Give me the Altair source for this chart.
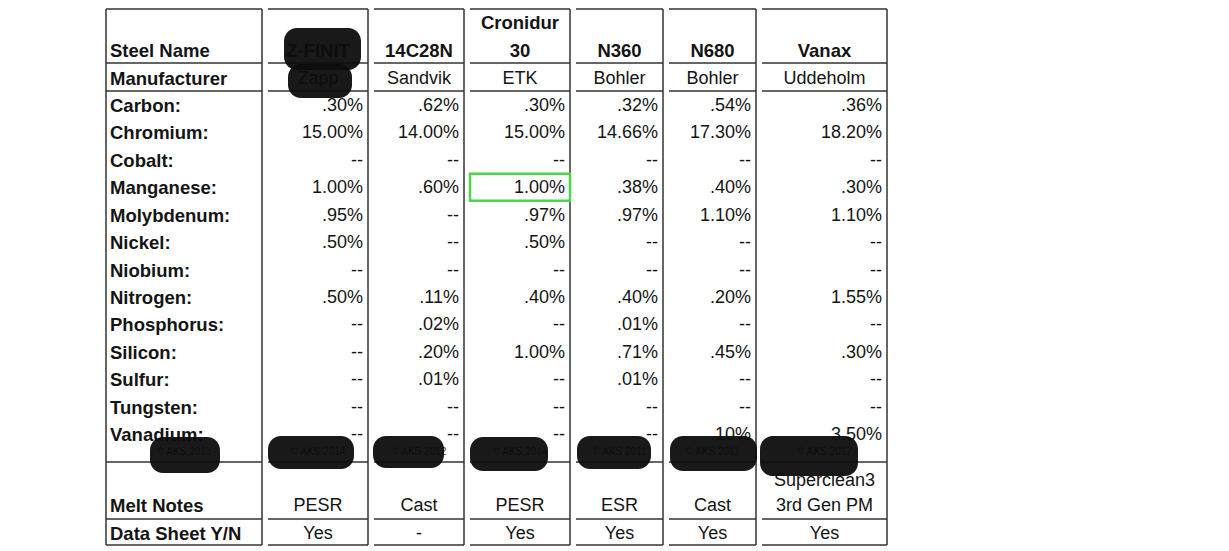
import altair as alt
import pandas as pd

# ---------------- data ----------------
row_labels_top = ["Steel Name", "Manufacturer"]
elements = ["Carbon:", "Chromium:", "Cobalt:", "Manganese:", "Molybdenum:", "Nickel:",
            "Niobium:", "Nitrogen:", "Phosphorus:", "Silicon:", "Sulfur:", "Tungsten:", "Vanadium:"]
row_labels_bottom = ["Melt Notes", "Data Sheet Y/N"]

steels = ["Z-FINIT", "14C28N", "Cronidur\n30", "N360", "N680", "Vanax"]
manufacturers = ["Zapp", "Sandvik", "ETK", "Bohler", "Bohler", "Uddeholm"]

zfinit_vals = [".30%", "15.00%", "--", "1.00%", ".95%", ".50%", "--", ".50%", "--", "--", "--", "--", "--"]
c14c28n_vals = [".62%", "14.00%", "--", ".60%", "--", "--", "--", ".11%", ".02%", ".20%", ".01%", "--", "--"]
cronidur_vals = [".30%", "15.00%", "--", "1.00%", ".97%", ".50%", "--", ".40%", "--", "1.00%", "--", "--", "--"]
n360_vals = [".32%", "14.66%", "--", ".38%", ".97%", "--", "--", ".40%", ".01%", ".71%", ".01%", "--", "--"]
n680_vals = [".54%", "17.30%", "--", ".40%", "1.10%", "--", "--", ".20%", "--", ".45%", "--", "--", ".10%"]
vanax_vals = [".36%", "18.20%", "--", ".30%", "1.10%", "--", "--", "1.55%", "--", ".30%", "--", "--", "3.50%"]
composition = [zfinit_vals, c14c28n_vals, cronidur_vals, n360_vals, n680_vals, vanax_vals]

melt_notes = ["PESR", "Cast", "PESR", "ESR", "Cast", "Superclean3\n3rd Gen PM"]
data_sheet = ["Yes", "-", "Yes", "Yes", "Yes", "Yes"]
copyrights = ["© AKS 2013", "© AKS 2014", "© AKS 2012", "© AKS 2014", "© AKS 2011", "© AKS 2011", "© AKS 2017"]

highlight_steel = 2        # Cronidur 30
highlight_element = 3      # Manganese

# ---------------- layout (page pixels) ----------------
LEFT = 106
GAP = 6
col_widths = [156, 100, 90, 100, 87, 87, 125]
TOP = 9
HEADER_Y = 50
LINE_H = 28
HEADER_BOTTOM = 63
MANUF_Y = 78
MANUF_BOTTOM = 91
ELEM_Y0 = 105
ELEM_STEP = 27.42
NOTES_TOP = 462
NOTES_Y = 505
NOTES_BOTTOM = 519
SHEET_Y = 533
BOTTOM = 545
COPY_Y = 452
DY = 1

col_left, col_right = [], []
x = LEFT
for w in col_widths:
    col_left.append(x)
    col_right.append(x + w)
    x += w + GAP
col_center = [(a + b) / 2 for a, b in zip(col_left, col_right)]

# redaction blobs: (column, x offset from col left, width, y0, y1)
redactions = [(1, 16, 77, 28, 70), (1, 20, 64, 64, 98),
              (0, 44, 70, 437, 473), (1, 0, 86, 436, 469), (2, -1, 71, 436, 468),
              (3, 0, 78, 437, 471), (4, 1, 74, 436, 469), (5, 1, 87, 436, 471),
              (6, -2, 98, 436, 476)]

FONT = "Liberation Sans"
SIZE = 18
BOLD_SIZE = 18.5
INK = "#141414"

# ---------------- tables ----------------
rules = []
for i in range(len(col_widths)):
    l, r = col_left[i], col_right[i]
    for yy in [TOP, HEADER_BOTTOM, MANUF_BOTTOM, NOTES_TOP, NOTES_BOTTOM, BOTTOM]:
        rules.append({"x": l, "x2": r, "y": yy, "y2": yy})
    rules.append({"x": r, "x2": r, "y": TOP, "y2": BOTTOM})
    if i == 0:
        rules.append({"x": l, "x2": l, "y": TOP, "y2": BOTTOM})
rules_df = pd.DataFrame(rules)

labels = []
labels.append({"t": row_labels_top[0], "x": col_left[0] + 4, "y": HEADER_Y})
labels.append({"t": row_labels_top[1], "x": col_left[0] + 4, "y": MANUF_Y})
for k, e in enumerate(elements):
    labels.append({"t": e, "x": col_left[0] + 4, "y": ELEM_Y0 + k * ELEM_STEP})
labels.append({"t": row_labels_bottom[0], "x": col_left[0] + 4, "y": NOTES_Y})
labels.append({"t": row_labels_bottom[1], "x": col_left[0] + 4, "y": SHEET_Y})
labels_df = pd.DataFrame(labels)

names = []
for j, s in enumerate(steels):
    parts = s.split("\n")
    for p, line in enumerate(parts):
        names.append({"t": line, "x": col_center[j + 1],
                      "y": HEADER_Y - (len(parts) - 1 - p) * LINE_H})
names_df = pd.DataFrame(names)

centered = []
for j, m in enumerate(manufacturers):
    centered.append({"t": m, "x": col_center[j + 1], "y": MANUF_Y})
for j, m in enumerate(melt_notes):
    parts = m.split("\n")
    for p, line in enumerate(parts):
        centered.append({"t": line, "x": col_center[j + 1],
                         "y": NOTES_Y - (len(parts) - 1 - p) * 25})
for j, d in enumerate(data_sheet):
    centered.append({"t": d, "x": col_center[j + 1], "y": SHEET_Y})
centered_df = pd.DataFrame(centered)

vals = []
for j, col in enumerate(composition):
    for k, v in enumerate(col):
        vals.append({"t": v, "x": col_right[j + 1] - 5, "y": ELEM_Y0 + k * ELEM_STEP})
vals_df = pd.DataFrame(vals)

blobs = []
for c, dx, w, y0, y1 in redactions:
    blobs.append({"x": col_left[c] + dx, "x2": col_left[c] + dx + w, "y": y0, "y2": y1})
blobs_df = pd.DataFrame(blobs)

copy_df = pd.DataFrame([{"t": c, "x": col_center[i], "y": COPY_Y}
                        for i, c in enumerate(copyrights)])

hl_y = ELEM_Y0 + highlight_element * ELEM_STEP
hl_df = pd.DataFrame([{"x": col_left[highlight_steel + 1], "x2": col_right[highlight_steel + 1],
                       "y": hl_y - 13.5, "y2": hl_y + 13.5}])

# ---------------- chart ----------------
W, H = 1213, 540
xs = alt.Scale(domain=[8, 8 + W], nice=False, zero=False)
ys = alt.Scale(domain=[8, 8 + H], nice=False, zero=False, reverse=True)
X = alt.X("x:Q", scale=xs, axis=None)
Y = alt.Y("y:Q", scale=ys, axis=None)

rule_layer = alt.Chart(rules_df).mark_rule(color="#333333", strokeWidth=1.5).encode(
    x=X, x2="x2:Q", y=Y, y2="y2:Q")

label_layer = alt.Chart(labels_df).mark_text(
    align="left", baseline="middle", font=FONT, fontSize=BOLD_SIZE, fontWeight="bold", color=INK, dy=DY
).encode(x=X, y=Y, text="t:N")

name_layer = alt.Chart(names_df).mark_text(
    align="center", baseline="middle", font=FONT, fontSize=BOLD_SIZE, fontWeight="bold", color=INK, dy=DY
).encode(x=X, y=Y, text="t:N")

center_layer = alt.Chart(centered_df).mark_text(
    align="center", baseline="middle", font=FONT, fontSize=SIZE, color=INK, dy=DY
).encode(x=X, y=Y, text="t:N")

val_layer = alt.Chart(vals_df).mark_text(
    align="right", baseline="middle", font=FONT, fontSize=SIZE, color=INK, dy=DY
).encode(x=X, y=Y, text="t:N")

copy_layer = alt.Chart(copy_df).mark_text(
    align="center", baseline="middle", font=FONT, fontSize=10, color="#333333"
).encode(x=X, y=Y, text="t:N")

blob_layer = alt.Chart(blobs_df).mark_rect(
    color="#0d0d0d", cornerRadius=13, opacity=0.95
).encode(x=X, x2="x2:Q", y=Y, y2="y2:Q")

hl_layer = alt.Chart(hl_df).mark_rect(
    fill=None, stroke="#4fd34f", strokeWidth=2.5
).encode(x=X, x2="x2:Q", y=Y, y2="y2:Q")

chart = alt.layer(
    rule_layer, label_layer, name_layer, center_layer, val_layer, copy_layer, blob_layer, hl_layer
).properties(
    width=W, height=H, autosize=alt.AutoSizeParams(type="none"), padding=0, background="white"
).configure_view(stroke=None)

chart.save("out.html", embed_options={"renderer": "svg", "actions": False})
